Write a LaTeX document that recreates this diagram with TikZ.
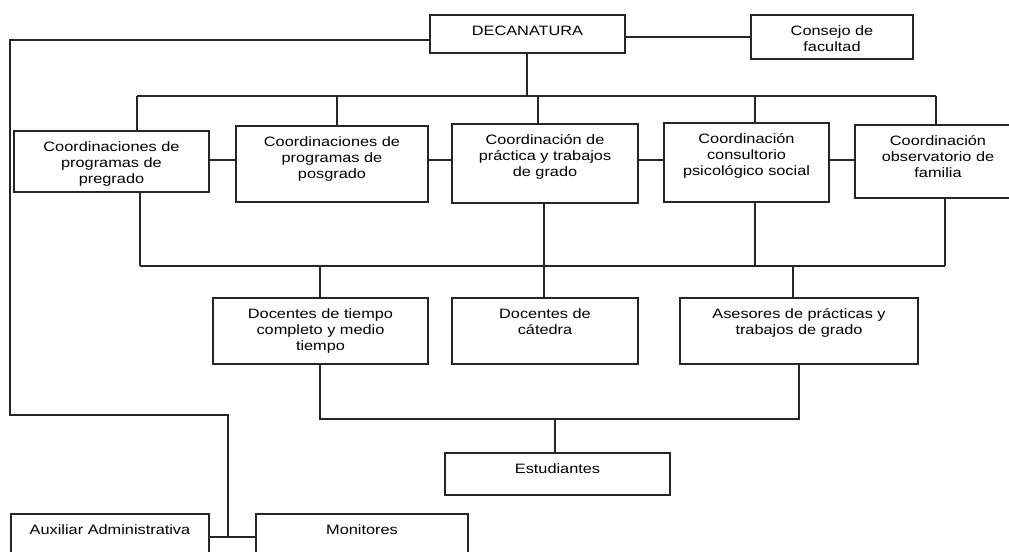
\documentclass[tikz,border=0pt]{standalone}
\usepackage{fontspec}
\setmainfont{Liberation Sans}[FakeStretch=1.2]
\tikzset{
	box/.style 2 args={draw=black!85, line width=.8pt, minimum width=#1*.75pt, minimum height=#2*.75pt, inner sep=0pt},
	ttl/.style={label={[anchor=north, align=center, inner sep=0pt, yshift=-8.25pt, font=\fontsize{10.2}{12}\selectfont]90:#1}},
	wire/.style={draw=black!85, line width=.8pt}
}
\begin{document}
\begin{tikzpicture}[x=.75pt, y=-.75pt]
	\clip (0,0) rectangle (1009,552);
	\node[box={195}{38}, ttl=DECANATURA] (deca) at (527.5,34) {};
	\node[box={162}{44}, ttl={Consejo de\\facultad}] (cons) at (832,37) {};
	\node[box={195}{61}, ttl={Coordinaciones de\\programas de\\pregrado}] (pre) at (111.5,161.5) {};
	\node[box={192}{76}, ttl={Coordinaciones de\\programas de\\posgrado}] (pos) at (332,164) {};
	\node[box={186}{79}, ttl={Coordinación de\\práctica y trabajos\\de grado}] (pra) at (545,163.5) {};
	\node[box={165}{79}, ttl={Coordinación\\consultorio\\psicológico social}] (con) at (746.5,162.5) {};
	\node[box={166}{73}, ttl={Coordinación\\observatorio de\\familia}] (obs) at (938,161.5) {};
	\node[box={215}{66}, ttl={Docentes de tiempo\\completo y medio\\tiempo}] (dtc) at (320.5,331) {};
	\node[box={186}{66}, ttl={Docentes de\\cátedra}] (dca) at (545,331) {};
	\node[box={238}{66}, ttl={Asesores de prácticas y\\trabajos de grado}] (ase) at (799,331) {};
	\node[box={225}{42}, ttl=Estudiantes] (est) at (557.5,474) {};
	\node[box={198}{46}, ttl={Auxiliar Administrativa}] (aux) at (110,537) {};
	\node[box={212}{46}, ttl=Monitores] (mon) at (362,537) {};

	\draw[wire] (cons.west) -- (cons.west -| deca.east);
	\coordinate (k1) at (10,40);
	\coordinate (k2) at (10,415);
	\coordinate (k3) at (228,415);
	\coordinate (k4) at (228,537);
	\draw[wire] (deca.west |- k1) -- (k1) -- (k2) -- (k3) -- (k4);
	\draw[wire] (aux.east) -- (mon.west);

	\coordinate (ta) at (137,96);
	\coordinate (tb) at (936,96);
	\draw[wire] (deca.south -| 527,0) -- (ta -| 527,0);
	\draw[wire] (ta) -- (tb);
	\foreach \n/\x in {pre/137, pos/337, pra/538, con/755, obs/936}
		\draw[wire] (\n.north -| \x,0) -- (ta -| \x,0);
	\coordinate (rw) at (0,160);
	\foreach \a/\b in {pre/pos, pos/pra, pra/con, con/obs}
		\draw[wire] (\a.east |- rw) -- (\b.west |- rw);

	\coordinate (ma) at (140,266);
	\coordinate (mb) at (945,266);
	\draw[wire] (ma) -- (mb);
	\foreach \n/\x in {pre/140, pra/544, con/755, obs/945}
		\draw[wire] (\n.south -| \x,0) -- (ma -| \x,0);
	\foreach \n/\x in {dtc/320, dca/544, ase/793}
		\draw[wire] (\n.north -| \x,0) -- (ma -| \x,0);

	\coordinate (lb) at (0,419);
	\draw[wire] (dtc.south -| 320,0) -- (lb -| 320,0) -- (lb -| 799,0) -- (ase.south -| 799,0);
	\draw[wire] (est.north -| 555,0) -- (lb -| 555,0);
\end{tikzpicture}
\end{document}
